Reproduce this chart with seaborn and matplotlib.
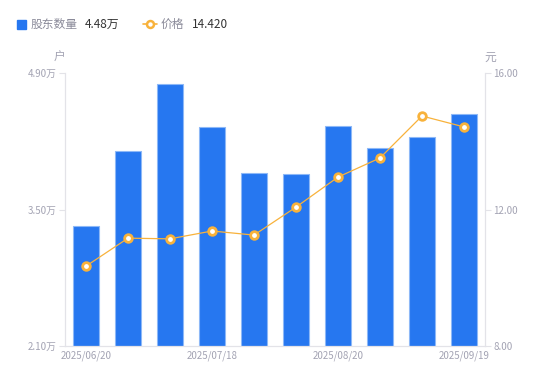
import numpy as np
import pandas as pd
import seaborn as sns
import matplotlib.pyplot as plt
from matplotlib.patches import Rectangle
from matplotlib.lines import Line2D

# data
dates = ['2025/06/20', '2025/06/30', '2025/07/10', '2025/07/18', '2025/07/31',
         '2025/08/10', '2025/08/20', '2025/08/31', '2025/09/10', '2025/09/19']
holders = [3.33, 4.10, 4.79, 4.35, 3.87, 3.86, 4.36, 4.13, 4.24, 4.48]  # 万户
prices = [10.34, 11.16, 11.14, 11.37, 11.25, 12.07, 12.95, 13.51, 14.74, 14.42]  # 元
shown_dates = ['2025/06/20', '2025/07/18', '2025/08/20', '2025/09/19']
left_ticks = [2.10, 3.50, 4.90]
right_ticks = [8.00, 12.00, 16.00]

BAR = '#2677F0'
LINE = '#F8B23B'
SPINE = '#E3E3E8'
TICK = '#A3A3B3'

sns.set_style('white')
plt.rcParams['font.family'] = ['Noto Sans CJK SC', 'DejaVu Sans']

df = pd.DataFrame({'date': dates, 'holders': holders, 'price': prices})

fig = plt.figure(figsize=(5.5, 3.81), dpi=100)
ax = fig.add_axes([65 / 550, 1 - 346 / 381, 420 / 550, 273 / 381])
sns.barplot(data=df, x='date', y='holders', color=BAR, width=0.6,
            edgecolor='#8DB8F7', linewidth=0.8, saturation=1, ax=ax)
ax.set_xlim(-0.5, len(dates) - 0.5)
ax.set_ylim(left_ticks[0], left_ticks[-1])
ax.set_yticks(left_ticks)
ax.set_yticklabels([f'{v:.2f}万' for v in left_ticks])
pos = [dates.index(d) for d in shown_dates]
ax.set_xticks(pos)
ax.set_xticklabels(shown_dates)
ax.set_xlabel('')
ax.set_ylabel('')

ax2 = ax.twinx()
sns.lineplot(x=np.arange(len(prices)), y=prices, ax=ax2, color=LINE, linewidth=0.9,
             marker='o', markersize=5.5, markerfacecolor='white',
             markeredgecolor=LINE, markeredgewidth=2.0)
ax2.set_ylim(right_ticks[0], right_ticks[-1])
ax2.set_yticks(right_ticks)
ax2.set_yticklabels([f'{v:.2f}' for v in right_ticks])

for a in (ax, ax2):
    for s in a.spines.values():
        s.set_visible(False)
ax.spines['left'].set_visible(True)
ax.spines['bottom'].set_visible(True)
ax2.spines['right'].set_visible(True)
for s in (ax.spines['left'], ax.spines['bottom'], ax2.spines['right']):
    s.set_color(SPINE)
    s.set_linewidth(0.9)
ax.tick_params(axis='y', length=4, width=0.8, color=SPINE, labelcolor=TICK,
               labelsize=7, pad=2, left=True)
ax.tick_params(axis='x', length=0, labelcolor=TICK, labelsize=7, pad=3)
ax2.tick_params(axis='y', length=4, width=0.8, color=SPINE, labelcolor=TICK,
                labelsize=7, pad=2, right=True)
ax.grid(False)
ax2.grid(False)

# unit labels
fig.text(60 / 550, 1 - 57 / 381, '户', color=TICK, fontsize=8.5, ha='center', va='center')
fig.text(490 / 550, 1 - 57 / 381, '元', color=TICK, fontsize=8.5, ha='center', va='center')

# legend row
fig.add_artist(Rectangle((17 / 550, 1 - 29 / 381), 9 / 550, 9 / 381,
                         transform=fig.transFigure, color=BAR))
fig.text(31 / 550, 1 - 24 / 381, '股东数量', color='#8A8A99', fontsize=8.5, va='center')
fig.text(85 / 550, 1 - 24 / 381, f'{holders[-1]:.2f}万', color='#333333', fontsize=8.5, va='center')
fig.add_artist(Line2D([143 / 550, 157 / 550], [1 - 24 / 381] * 2, transform=fig.transFigure,
                      color=LINE, linewidth=1.2))
fig.add_artist(Line2D([150 / 550], [1 - 24 / 381], transform=fig.transFigure, marker='o',
                      markersize=5, markerfacecolor='white', markeredgecolor=LINE,
                      markeredgewidth=1.8))
fig.text(161 / 550, 1 - 24 / 381, '价格', color='#8A8A99', fontsize=8.5, va='center')
fig.text(192 / 550, 1 - 24 / 381, f'{prices[-1]:.3f}', color='#333333', fontsize=8.5, va='center')

plt.savefig('out.png', dpi=100)
